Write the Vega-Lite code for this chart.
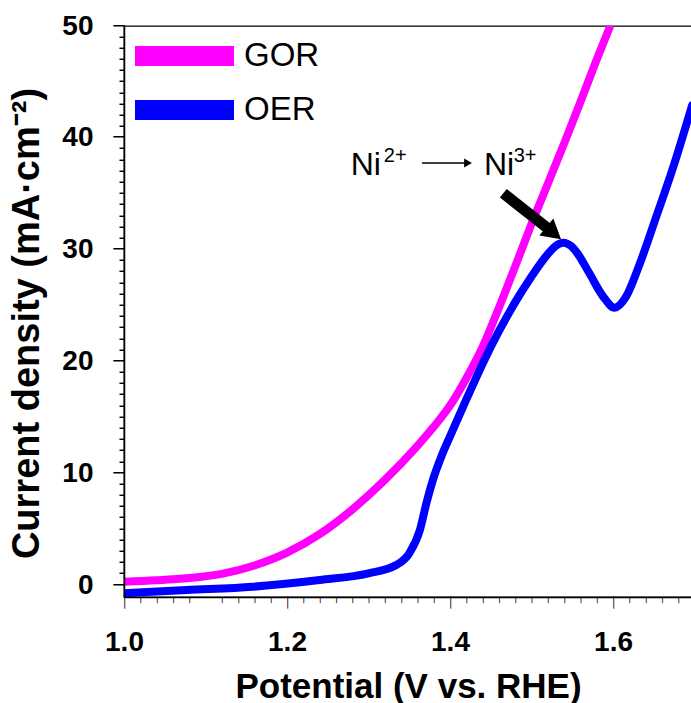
{
  "$schema": "https://vega.github.io/schema/vega-lite/v6.json",
  "width": 568,
  "height": 571,
  "autosize": {"type": "none"},
  "padding": {"left": 124, "top": 26, "right": 0, "bottom": 106},
  "background": "white",
  "config": {
    "view": {"stroke": "black", "strokeWidth": 1.3}
  },
  "resolve": {"axis": {"x": "independent", "y": "independent"}},
  "encoding": {
    "x": {"field": "x", "type": "quantitative", "scale": {"domain": [1.0, 1.6969], "nice": false, "zero": false}, "axis": null},
    "y": {"field": "y", "type": "quantitative", "scale": {"domain": [-1.07, 50], "nice": false, "zero": false}, "axis": null}
  },
  "layer": [
    {
      "data": {"values": [
        {"series": "GOR", "x": 1.00, "y": 0.30},
        {"series": "GOR", "x": 1.04, "y": 0.42},
        {"series": "GOR", "x": 1.08, "y": 0.62},
        {"series": "GOR", "x": 1.12, "y": 1.00},
        {"series": "GOR", "x": 1.16, "y": 1.75},
        {"series": "GOR", "x": 1.20, "y": 2.90},
        {"series": "GOR", "x": 1.24, "y": 4.55},
        {"series": "GOR", "x": 1.28, "y": 6.75},
        {"series": "GOR", "x": 1.32, "y": 9.40},
        {"series": "GOR", "x": 1.36, "y": 12.45},
        {"series": "GOR", "x": 1.38, "y": 14.15},
        {"series": "GOR", "x": 1.40, "y": 16.05},
        {"series": "GOR", "x": 1.42, "y": 18.50},
        {"series": "GOR", "x": 1.44, "y": 21.30},
        {"series": "GOR", "x": 1.46, "y": 24.80},
        {"series": "GOR", "x": 1.48, "y": 28.50},
        {"series": "GOR", "x": 1.50, "y": 32.30},
        {"series": "GOR", "x": 1.52, "y": 35.90},
        {"series": "GOR", "x": 1.54, "y": 39.50},
        {"series": "GOR", "x": 1.56, "y": 43.20},
        {"series": "GOR", "x": 1.58, "y": 47.00},
        {"series": "GOR", "x": 1.596, "y": 49.90},
        {"series": "OER", "x": 1.000, "y": -0.74},
        {"series": "OER", "x": 1.077, "y": -0.45},
        {"series": "OER", "x": 1.158, "y": -0.15},
        {"series": "OER", "x": 1.240, "y": 0.45},
        {"series": "OER", "x": 1.300, "y": 1.05},
        {"series": "OER", "x": 1.334, "y": 1.79},
        {"series": "OER", "x": 1.350, "y": 2.84},
        {"series": "OER", "x": 1.363, "y": 4.92},
        {"series": "OER", "x": 1.371, "y": 7.31},
        {"series": "OER", "x": 1.379, "y": 9.39},
        {"series": "OER", "x": 1.390, "y": 11.60},
        {"series": "OER", "x": 1.400, "y": 13.30},
        {"series": "OER", "x": 1.420, "y": 16.60},
        {"series": "OER", "x": 1.440, "y": 19.80},
        {"series": "OER", "x": 1.460, "y": 22.70},
        {"series": "OER", "x": 1.480, "y": 25.30},
        {"series": "OER", "x": 1.500, "y": 27.60},
        {"series": "OER", "x": 1.520, "y": 29.60},
        {"series": "OER", "x": 1.530, "y": 30.35},
        {"series": "OER", "x": 1.539, "y": 30.62},
        {"series": "OER", "x": 1.548, "y": 30.35},
        {"series": "OER", "x": 1.556, "y": 29.70},
        {"series": "OER", "x": 1.571, "y": 27.88},
        {"series": "OER", "x": 1.588, "y": 25.79},
        {"series": "OER", "x": 1.602, "y": 24.80},
        {"series": "OER", "x": 1.616, "y": 25.79},
        {"series": "OER", "x": 1.633, "y": 28.77},
        {"series": "OER", "x": 1.653, "y": 32.94},
        {"series": "OER", "x": 1.674, "y": 37.41},
        {"series": "OER", "x": 1.697, "y": 42.90}
      ]},
      "mark": {"type": "line", "strokeWidth": 8, "interpolate": "monotone", "strokeCap": "round", "clip": true},
      "encoding": {
        "x": {
          "field": "x", "type": "quantitative",
          "scale": {"domain": [1.0, 1.6969], "nice": false, "zero": false},
          "axis": {
            "orient": "bottom",
            "zindex": 1,
            "title": "Potential (V vs. RHE)",
            "values": [1.0, 1.2, 1.4, 1.6],
            "format": ".1f",
            "grid": false,
            "domainColor": "black", "domainWidth": 1.5,
            "ticks": false,
            "labelColor": "black", "labelFont": "Liberation Sans", "labelFontWeight": "bold", "labelFontSize": 28,
            "labelPadding": 31, "labelOverlap": false, "labelFlush": false,
            "titleColor": "black", "titleFont": "Liberation Sans", "titleFontWeight": "bold", "titleFontSize": 35,
            "titleX": 284,
            "titleY": 100,
            "titleAlign": "center",
            "titleBaseline": "alphabetic"
          }
        },
        "y": {
          "field": "y", "type": "quantitative",
          "scale": {"domain": [-1.07, 50], "nice": false, "zero": false},
          "axis": {
            "orient": "left",
            "zindex": 1,
            "title": "Current density (mA·cm⁻²)",
            "values": [0, 10, 20, 30, 40, 50],
            "format": "d",
            "grid": false,
            "domainColor": "black", "domainWidth": 1.5,
            "ticks": false,
            "labelColor": "black", "labelFont": "Liberation Sans", "labelFontWeight": "bold", "labelFontSize": 28,
            "labelPadding": 31, "labelOverlap": false, "labelFlush": false,
            "titleColor": "black", "titleFont": "Liberation Sans", "titleFontWeight": "bold", "titleFontSize": 38,
            "titleX": -86,
            "titleY": 297,
            "titleAngle": -90,
            "titleAlign": "center",
            "titleBaseline": "alphabetic"
          }
        },
        "color": {
          "field": "series", "type": "nominal",
          "scale": {"domain": ["GOR", "OER"], "range": ["#FF00FF", "#0000FF"]},
          "legend": {
            "orient": "none", "legendX": 1, "legendY": 3, "title": null,
            "symbolType": "stroke", "symbolStrokeWidth": 20, "symbolSize": 9801,
            "labelFont": "Liberation Sans", "labelFontSize": 33, "labelColor": "black",
            "labelOffset": 0, "rowPadding": 0, "padding": 0, "clipHeight": 54
          }
        }
      }
    },
    {
      "data": {"values": [{"x": 1.3656, "y": 37.75, "x2": 1.4196, "y2": 37.75}]},
      "mark": {"type": "rule", "strokeWidth": 1.5, "color": "black"},
      "encoding": {"x2": {"field": "x2"}, "y2": {"field": "y2"}}
    },
    {
      "data": {"values": [{"x": 1.4221, "y": 37.75}]},
      "mark": {"type": "point", "shape": "triangle-right", "filled": true, "color": "black", "opacity": 1, "size": 81}
    },
    {
      "data": {"values": [{"x": 1.4654, "y": 35.04, "x2": 1.5202, "y2": 31.89}]},
      "mark": {"type": "rule", "strokeWidth": 11, "color": "black", "strokeCap": "butt"},
      "encoding": {"x2": {"field": "x2"}, "y2": {"field": "y2"}}
    },
    {
      "data": {"values": [{"x": 1.5272, "y": 31.48}]},
      "mark": {"type": "point", "shape": "triangle-right", "filled": true, "color": "black", "opacity": 1, "size": 484, "angle": 39.5}
    },
    {
      "data": {"values": [{"x": 1.2782, "y": 36.67, "label": "Ni"}, {"x": 1.4417, "y": 36.67, "label": "Ni"}]},
      "mark": {"type": "text", "align": "left", "baseline": "alphabetic", "font": "Liberation Sans", "fontSize": 32, "color": "black"},
      "encoding": {
        "text": {"field": "label"},
        "x": {
          "field": "x", "type": "quantitative",
          "scale": {"domain": [1.0, 1.6969], "nice": false, "zero": false},
          "axis": {
            "orient": "bottom", "zindex": 1, "title": null, "domain": false, "grid": false, "ticks": false,
            "values": [1.0, 1.2, 1.4, 1.6],
            "labelExpr": "'│'",
            "labelFont": "DejaVu Sans Mono", "labelFontSize": 10.7, "labelColor": "black",
            "labelPadding": 0, "labelOverlap": false, "labelFlush": false
          }
        },
        "y": {
          "field": "y", "type": "quantitative",
          "scale": {"domain": [-1.07, 50], "nice": false, "zero": false},
          "axis": {
            "orient": "left", "zindex": 1, "title": null, "domain": false, "grid": false, "ticks": false,
            "values": [0, 10, 20, 30, 40, 50],
            "labelExpr": "'─'",
            "labelFont": "DejaVu Sans Mono", "labelFontSize": 18.3, "labelColor": "black",
            "labelPadding": 0, "labelOverlap": false, "labelFlush": false
          }
        }
      }
    },
    {
      "data": {"values": [{"x": 1.3187, "y": 37.84, "label": "2+"}, {"x": 1.4782, "y": 37.84, "label": "3+"}]},
      "mark": {"type": "text", "align": "left", "baseline": "alphabetic", "font": "Liberation Sans", "fontSize": 20, "color": "black"},
      "encoding": {
        "text": {"field": "label"},
        "x": {
          "field": "x", "type": "quantitative",
          "scale": {"domain": [1.0, 1.6969], "nice": false, "zero": false},
          "axis": {
            "orient": "bottom", "zindex": 1, "title": null, "domain": false, "grid": false, "ticks": false,
            "values": [1.02, 1.04, 1.06, 1.08, 1.12, 1.14, 1.16, 1.18, 1.22, 1.24, 1.26, 1.28, 1.3, 1.32, 1.34, 1.36, 1.38, 1.42, 1.44, 1.46, 1.48, 1.5, 1.52, 1.54, 1.56, 1.58, 1.62, 1.64, 1.66, 1.68],
            "labelExpr": "'┃'",
            "labelFont": "DejaVu Sans Mono", "labelFontSize": 4.9, "labelColor": "black",
            "labelPadding": 0, "labelOverlap": false, "labelFlush": false
          }
        },
        "y": {
          "field": "y", "type": "quantitative",
          "scale": {"domain": [-1.07, 50], "nice": false, "zero": false},
          "axis": {
            "orient": "left", "zindex": 1, "title": null, "domain": false, "grid": false, "ticks": false,
            "values": [1, 2, 3, 4, 5, 6, 7, 8, 9, 11, 12, 13, 14, 15, 16, 17, 18, 19, 21, 22, 23, 24, 25, 26, 27, 28, 29, 31, 32, 33, 34, 35, 36, 37, 38, 39, 41, 42, 43, 44, 45, 46, 47, 48, 49],
            "labelExpr": "'━'",
            "labelFont": "DejaVu Sans Mono", "labelFontSize": 8.3, "labelColor": "black",
            "labelPadding": 0, "labelOverlap": false, "labelFlush": false
          }
        }
      }
    }
  ]
}
